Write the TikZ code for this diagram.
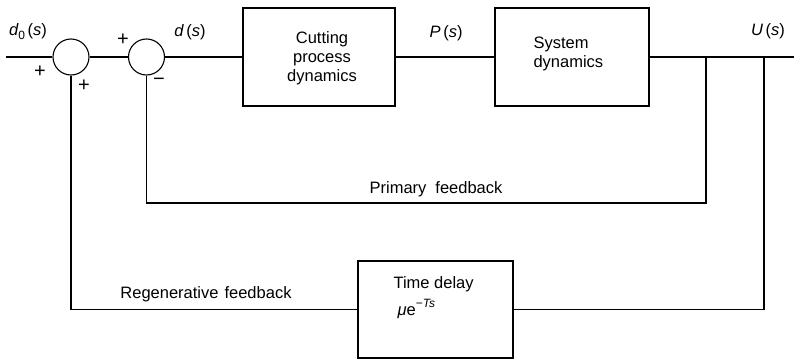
\documentclass[tikz,border=0pt]{standalone}
\usepackage{fontspec}
\setmainfont{Liberation Sans}
\begin{document}
\begin{tikzpicture}[x=1pt,y=-1pt,
  line width=1.1pt,
  sumnode/.style={circle,draw,minimum size=36pt,inner sep=0pt},
  blockbox/.style={draw,rectangle,inner sep=0pt},
  lbl/.style={inner sep=0pt,font=\fontsize{16.5}{19}\selectfont},
  sgn/.style={inner sep=0pt,font=\fontsize{20}{20}\selectfont}]
\useasboundingbox (0,0) rectangle (794,361);
\node[sumnode] (s1) at (71,57) {};
\node[sumnode] (s2) at (146.5,57) {};
\node[blockbox,minimum width=152pt,minimum height=98pt] (b1) at (319,57) {};
\node[blockbox,minimum width=154pt,minimum height=98pt] (b2) at (572,57) {};
\node[blockbox,minimum width=155pt,minimum height=97pt] (dl) at (435.5,309.5) {};
\node[lbl,align=center] (t1) at (322,58) {Cutting\\process\\dynamics};
\node[lbl,align=left,anchor=west] (t2) at (533,54) {System\\dynamics};
\node[lbl,anchor=west] (t3) at (393,284) {Time delay};
\node[lbl,anchor=west] (t4) at (397,309) {\itshape μ\upshape e\raisebox{0.45em}{\fontsize{12}{12}\selectfont −\itshape Ts}};
\coordinate (in) at (6,57);
\coordinate (out) at (794,57);
\coordinate (p1) at (706,57);
\coordinate (p2) at (706,203);
\coordinate (p3) at (146.5,203);
\coordinate (r1) at (764,57);
\coordinate (r2) at (764,309.5);
\coordinate (r3) at (71,309.5);
\draw (in) -- (s1.west);
\draw (s1.east) -- (s2.west);
\draw (s2.east) -- (b1.west);
\draw (b1.east) -- (b2.west);
\draw (b2.east) -- (out);
\draw (p1) -- (p2) -- (p3) -- (s2.south);
\draw (r1) -- (r2) -- (dl.east);
\draw (dl.west) -- (r3) -- (s1.south);
\node[lbl] (ld0) at (28,32) {\itshape d\upshape\raisebox{-0.25em}{\fontsize{12}{12}\selectfont 0}\,(\itshape s\upshape)};
\node[sgn] (pl1) at (40,72) {+};
\node[sgn] (pl2) at (84,86) {+};
\node[sgn] (pl3) at (123,40) {+};
\node[sgn] (mi) at (159,82) {−};
\node[lbl] (ld) at (190,32) {\itshape d\upshape\,(\itshape s\upshape)};
\node[lbl] (lp) at (446,33) {\itshape P\upshape\,(\itshape s\upshape)};
\node[lbl] (lu) at (768,31) {\itshape U\upshape\,(\itshape s\upshape)};
\node[lbl] (lpf) at (436,189) {Primary\hspace{9pt}feedback};
\node[lbl] (lrf) at (206,294) {Regenerative\hspace{6pt}feedback};
\end{tikzpicture}
\end{document}
